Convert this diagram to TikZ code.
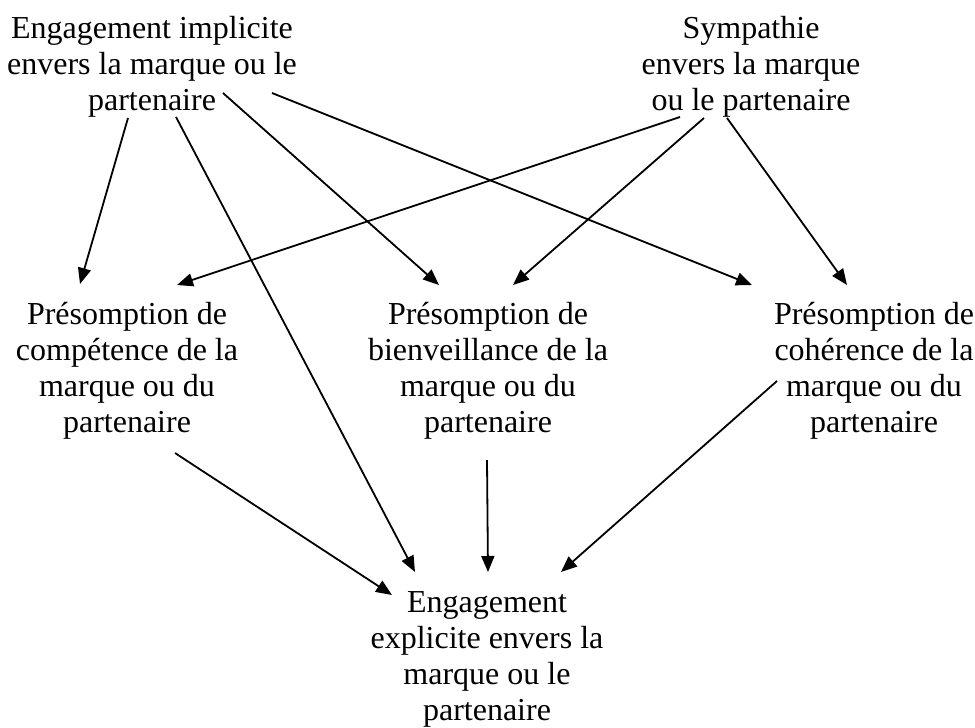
\documentclass[tikz,border=0pt]{standalone}
\usepackage{fontspec}
\setmainfont{Liberation Serif}
\usepackage{tikz}
\usetikzlibrary{arrows.meta}

\begin{document}
\begin{tikzpicture}[x=0.5pt, y=-0.5pt, >={Triangle[length=8pt,width=6.5pt]},
    line width=0.9pt,
    txt/.style={anchor=north, align=center, inner sep=0pt, font=\fontsize{16}{18}\selectfont}]
  \useasboundingbox (0,0) rectangle (975,728);

  \node[txt] (impl) at (152,15.5) {Engagement implicite\\envers la marque ou le\\partenaire};
  \node[txt] (symp) at (751,15) {Sympathie\\envers la marque\\ou le partenaire};
  \node[txt] (pcomp) at (127,301) {Présomption de\\compétence de la\\marque ou du\\partenaire};
  \node[txt] (pbien) at (488,301) {Présomption de\\bienveillance de la\\marque ou du\\partenaire};
  \node[txt] (pcoh) at (874,301) {Présomption de\\cohérence de la\\marque ou du\\partenaire};
  \node[txt] (expl) at (487,591) {Engagement\\explicite envers la\\marque ou le\\partenaire};

  \draw[->] ([shift={(-24,102.5)}]impl.north) -- ([shift={(-47,-17)}]pcomp.north);
  \draw[->] ([shift={(24,101.5)}]impl.north) -- ([shift={(-72,-19)}]expl.north);
  \draw[->] ([shift={(71,77.5)}]impl.north) -- ([shift={(-49,-16)}]pbien.north);
  \draw[->] ([shift={(120,77.5)}]impl.north) -- ([shift={(-122,-16)}]pcoh.north);
  %\draw[->] (symp) -- (pcomp);
  \draw[->] ([shift={(-71,102)}]symp.north) -- ([shift={(50,-16)}]pcomp.north);
  \draw[->] ([shift={(-47,103)}]symp.north) -- ([shift={(25,-16)}]pbien.north);
  \draw[->] ([shift={(-24,103)}]symp.north) -- ([shift={(-27,-16)}]pcoh.north);
  \draw[->] ([shift={(48,152)}]pcomp.north) -- ([shift={(-95,4)}]expl.north);
  \draw[->] ([shift={(-1,159)}]pbien.north) -- ([shift={(1,-19)}]expl.north);
  \draw[->] ([shift={(-97,80)}]pcoh.north) -- ([shift={(74,-19)}]expl.north);
\end{tikzpicture}
\end{document}
